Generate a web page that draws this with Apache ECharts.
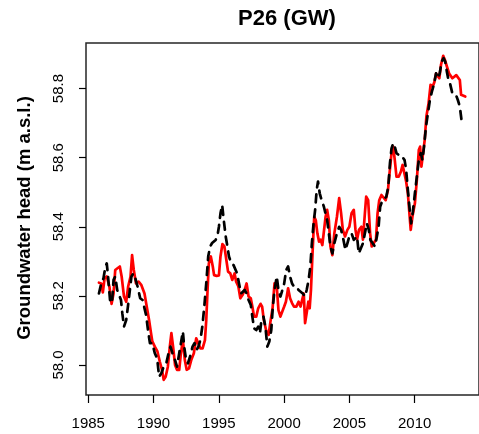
<!DOCTYPE html>
<html>
<head>
<meta charset="utf-8">
<script src="https://cdn.jsdelivr.net/npm/echarts@6/dist/echarts.min.js"></script>
<style>
html,body{margin:0;padding:0;background:#fff;}
#chart{width:479px;height:434px;}
</style>
</head>
<body>
<div id="chart"></div>
<script>
const chartTitle = "P26 (GW)";
const yAxisTitle = "Groundwater head (m a.s.l.)";
const xTicks = [1985, 1990, 1995, 2000, 2005, 2010];
const yTicks = [58.0, 58.2, 58.4, 58.6, 58.8];

const simYears = [1985.82,1986.00,1986.12,1986.25,1986.42,1986.62,1986.79,1986.94,1987.07,1987.24,
1987.42,1987.56,1987.74,1987.91,1988.06,1988.24,1988.36,1988.49,1988.66,1988.86,
1989.06,1989.31,1989.48,1989.66,1989.81,1989.91,1990.10,1990.30,1990.48,1990.65,
1990.78,1990.93,1991.10,1991.25,1991.37,1991.50,1991.65,1991.80,1991.97,1992.10,
1992.25,1992.40,1992.54,1992.72,1992.89,1993.09,1993.27,1993.42,1993.59,1993.76,
1993.94,1994.04,1994.14,1994.24,1994.39,1994.54,1994.64,1994.84,1995.01,1995.13,
1995.28,1995.43,1995.58,1995.71,1995.88,1996.03,1996.21,1996.33,1996.50,1996.65,
1996.83,1996.98,1997.13,1997.28,1997.45,1997.57,1997.70,1997.87,1998.02,1998.20,
1998.32,1998.45,1998.62,1998.82,1998.94,1999.12,1999.27,1999.44,1999.57,1999.72,
1999.87,2000.01,2000.14,2000.31,2000.46,2000.61,2000.76,2000.94,2001.11,2001.26,
2001.38,2001.51,2001.61,2001.73,2001.86,2001.96,2002.06,2002.18,2002.31,2002.43,
2002.55,2002.68,2002.80,2002.93,2003.05,2003.18,2003.30,2003.43,2003.55,2003.70,
2003.85,2004.05,2004.22,2004.37,2004.50,2004.67,2004.85,2005.00,2005.17,2005.34,
2005.47,2005.59,2005.74,2005.92,2006.04,2006.19,2006.29,2006.44,2006.59,2006.71,
2006.86,2007.04,2007.16,2007.29,2007.46,2007.61,2007.78,2007.96,2008.08,2008.23,
2008.36,2008.48,2008.61,2008.78,2008.95,2009.08,2009.23,2009.35,2009.48,2009.60,
2009.70,2009.83,2010.02,2010.17,2010.32,2010.42,2010.52,2010.65,2010.77,2010.90,
2011.07,2011.22,2011.39,2011.52,2011.64,2011.77,2011.89,2012.02,2012.19,2012.32,
2012.47,2012.64,2012.76,2012.89,2013.01,2013.19,2013.34,2013.46,2013.56,2013.71,
2013.88];
const simValues = [58.238,58.236,58.210,58.250,58.256,58.227,58.177,58.207,58.275,58.280,
58.285,58.256,58.198,58.183,58.227,58.256,58.318,58.275,58.236,58.241,
58.232,58.207,58.169,58.130,58.092,58.068,58.053,58.039,58.010,57.986,
57.957,57.966,57.995,58.053,58.092,58.053,58.000,57.986,57.986,58.034,
58.072,58.014,57.986,57.990,58.014,58.034,58.077,58.082,58.048,58.048,
58.072,58.130,58.217,58.294,58.314,58.285,58.260,58.258,58.259,58.314,
58.350,58.343,58.304,58.270,58.265,58.246,58.265,58.241,58.227,58.193,
58.203,58.217,58.236,58.198,58.193,58.169,58.140,58.140,58.164,58.177,
58.169,58.130,58.101,58.087,58.121,58.164,58.236,58.227,58.159,58.140,
58.140,58.169,58.183,58.222,58.193,58.179,58.169,58.169,58.183,58.169,
58.174,58.207,58.121,58.150,58.183,58.164,58.217,58.323,58.429,58.419,
58.381,58.357,58.363,58.347,58.347,58.429,58.449,58.419,58.343,58.318,
58.381,58.429,58.483,58.439,58.391,58.372,58.391,58.400,58.439,58.449,
58.391,58.363,58.391,58.400,58.363,58.439,58.487,58.477,58.381,58.343,
58.338,58.363,58.439,58.477,58.492,58.487,58.477,58.507,58.555,58.613,
58.632,58.593,58.545,58.545,58.560,58.579,58.584,58.531,58.497,58.439,
58.391,58.429,58.468,58.536,58.622,58.632,58.574,58.569,58.651,58.719,
58.758,58.811,58.806,58.820,58.844,58.839,58.830,58.869,58.895,58.883,
58.864,58.844,58.849,58.830,58.834,58.839,58.842,58.825,58.782,58.777,
58.777];

const obsYears = [1985.82,1986.00,1986.17,1986.32,1986.42,1986.52,1986.67,1986.82,1986.94,1987.07,
1987.22,1987.37,1987.51,1987.61,1987.74,1987.91,1988.04,1988.16,1988.31,1988.46,
1988.61,1988.78,1988.98,1989.16,1989.28,1989.43,1989.61,1989.73,1989.91,1990.10,
1990.28,1990.43,1990.60,1990.78,1990.98,1991.15,1991.30,1991.45,1991.65,1991.80,
1991.97,1992.10,1992.25,1992.35,1992.50,1992.64,1992.84,1992.99,1993.14,1993.29,
1993.44,1993.59,1993.74,1993.89,1994.04,1994.19,1994.34,1994.49,1994.64,1994.76,
1994.89,1995.01,1995.13,1995.26,1995.38,1995.53,1995.66,1995.78,1995.96,1996.13,
1996.28,1996.40,1996.55,1996.70,1996.83,1996.98,1997.13,1997.28,1997.45,1997.57,
1997.70,1997.87,1998.02,1998.15,1998.27,1998.42,1998.57,1998.72,1998.87,1999.02,
1999.14,1999.27,1999.44,1999.57,1999.72,1999.87,2000.01,2000.16,2000.31,2000.46,
2000.61,2000.76,2000.94,2001.11,2001.26,2001.43,2001.61,2001.73,2001.88,2002.01,
2002.13,2002.26,2002.38,2002.50,2002.60,2002.73,2002.88,2003.05,2003.18,2003.30,
2003.43,2003.55,2003.70,2003.85,2004.05,2004.22,2004.37,2004.55,2004.70,2004.85,
2005.00,2005.17,2005.34,2005.47,2005.59,2005.72,2005.87,2006.04,2006.19,2006.34,
2006.49,2006.61,2006.79,2006.96,2007.11,2007.24,2007.36,2007.54,2007.68,2007.83,
2007.98,2008.11,2008.23,2008.36,2008.48,2008.61,2008.78,2008.95,2009.10,2009.23,
2009.35,2009.48,2009.60,2009.73,2009.85,2010.02,2010.17,2010.32,2010.47,2010.60,
2010.72,2010.87,2011.02,2011.17,2011.32,2011.47,2011.64,2011.77,2011.92,2012.07,
2012.22,2012.34,2012.47,2012.59,2012.71,2012.89,2013.01,2013.16,2013.31,2013.46,
2013.59];
const obsValues = [58.207,58.236,58.251,58.285,58.294,58.256,58.188,58.179,58.246,58.256,
58.217,58.217,58.188,58.150,58.111,58.130,58.169,58.207,58.256,58.265,
58.251,58.227,58.193,58.188,58.183,58.145,58.092,58.063,58.063,58.034,
58.019,57.966,57.976,57.995,58.005,58.034,58.053,58.034,58.014,57.995,
58.034,58.063,58.097,58.053,58.014,58.005,58.029,58.053,58.063,58.043,
58.053,58.072,58.111,58.169,58.236,58.314,58.343,58.353,58.353,58.362,
58.372,58.400,58.439,58.463,58.420,58.372,58.343,58.314,58.294,58.289,
58.285,58.265,58.236,58.207,58.203,58.217,58.207,58.188,58.174,58.140,
58.106,58.101,58.111,58.092,58.130,58.140,58.111,58.053,58.068,58.101,
58.169,58.217,58.256,58.217,58.198,58.217,58.236,58.275,58.285,58.256,
58.236,58.227,58.227,58.217,58.217,58.207,58.198,58.217,58.246,58.285,
58.352,58.410,58.449,58.507,58.531,58.497,58.477,58.458,58.458,58.419,
58.381,58.343,58.323,58.352,58.381,58.400,58.391,58.362,58.333,58.352,
58.372,58.381,58.362,58.362,58.372,58.323,58.323,58.352,58.381,58.410,
58.391,58.362,58.352,58.343,58.372,58.400,58.458,58.477,58.477,58.487,
58.516,58.584,58.627,58.642,58.632,58.613,58.608,58.608,58.603,58.593,
58.565,58.507,58.458,58.410,58.439,58.497,58.545,58.593,58.613,58.593,
58.632,58.690,58.729,58.767,58.791,58.811,58.844,58.830,58.844,58.878,
58.888,58.878,58.849,58.825,58.815,58.786,58.782,58.782,58.767,58.748,
58.709];

const FONT = "'Liberation Sans', Arial, Helvetica, sans-serif";
const simData = simYears.map((y, i) => [y, simValues[i]]);
const obsData = obsYears.map((y, i) => [y, obsValues[i]]);

const chart = echarts.init(document.getElementById('chart'), null, {renderer: 'canvas'});
chart.setOption({
  animation: false,
  backgroundColor: '#ffffff',
  grid: {
    left: 86, top: 43, right: -10, bottom: 39,
    show: true, borderColor: '#262626', borderWidth: 1.5, backgroundColor: 'transparent'
  },
  graphic: [
    {type: 'text', x: 287, y: 19,
     style: {text: chartTitle, font: 'bold 22px ' + FONT, fill: '#000', textAlign: 'center', textVerticalAlign: 'middle'}},
    {type: 'text', x: 25, y: 218, rotation: Math.PI / 2,
     style: {text: yAxisTitle, font: 'bold 18.5px ' + FONT, fill: '#000', textAlign: 'center', textVerticalAlign: 'middle'}}
  ],
  xAxis: {
    type: 'value', min: 1984.83, max: 2014.93,
    splitLine: {show: false},
    axisLine: {show: false},
    axisTick: {show: true, customValues: xTicks, length: 8, inside: false, lineStyle: {color: '#000', width: 1.2}},
    axisLabel: {customValues: xTicks, margin: 21, color: '#000', fontSize: 15, fontFamily: FONT,
                formatter: v => String(v)}
  },
  yAxis: {
    type: 'value', min: 57.913, max: 58.932,
    splitLine: {show: false},
    axisLine: {show: false},
    axisTick: {show: true, customValues: yTicks, length: 7, inside: false, lineStyle: {color: '#000', width: 1.2}},
    axisLabel: {customValues: yTicks, margin: 20, rotate: 90, color: '#000', fontSize: 15, fontFamily: FONT,
                formatter: v => v.toFixed(1)}
  },
  series: [
    {type: 'line', name: 'simulated', data: simData, showSymbol: false, symbol: 'none',
     lineStyle: {color: '#ff0000', width: 2.7, cap: 'round', join: 'round'}, z: 2},
    {type: 'line', name: 'observed', data: obsData, showSymbol: false, symbol: 'none',
     lineStyle: {color: '#000000', width: 2.7, type: [8, 7], cap: 'round', join: 'round'}, z: 3}
  ]
});
</script>
</body>
</html>
